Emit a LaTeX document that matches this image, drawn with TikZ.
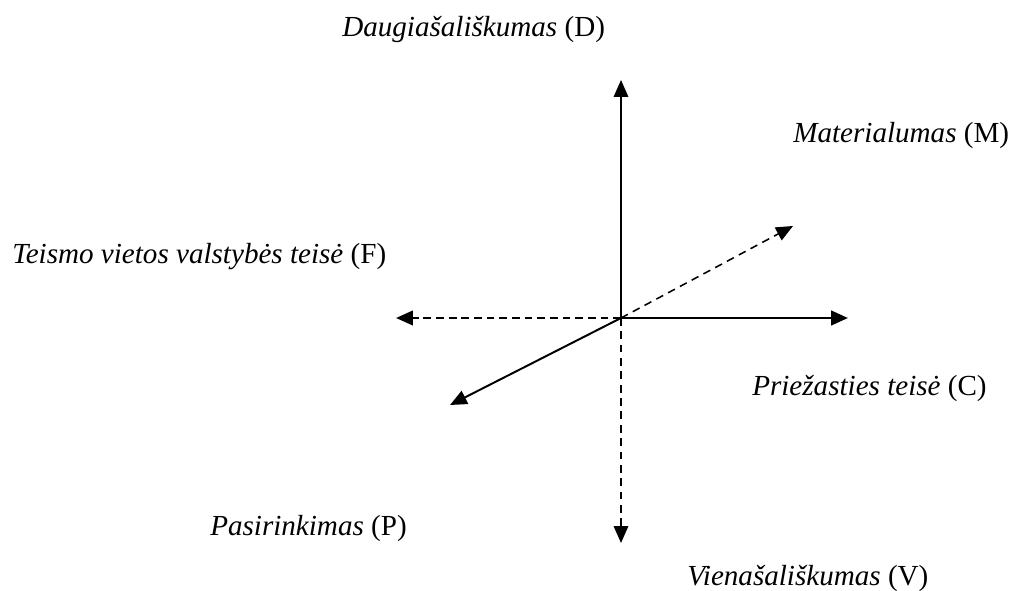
\documentclass[tikz,border=0pt]{standalone}
\usepackage{fontspec}
\setmainfont{Liberation Serif}
\usetikzlibrary{arrows.meta}

\begin{document}
\begin{tikzpicture}[>={Triangle[length=0.42cm,width=0.36cm]}, every node/.style={inner sep=0pt, anchor=base west, font=\fontsize{20.7}{25}\selectfont}]
  \useasboundingbox (-15.525cm,-6.8cm) rectangle (9.775cm,7.95cm);
  \coordinate (o) at (0cm,0cm);
  \coordinate (d) at (0cm,5.95cm);
  \coordinate (v) at (0cm,-5.625cm);
  \coordinate (c) at (5.675cm,0cm);
  \coordinate (f) at (-5.625cm,0cm);
  \coordinate (m) at (4.3cm,2.3cm);
  \coordinate (p) at (-4.275cm,-2.175cm);

  \node (lD) at (-6.975cm,7.025cm) {\textit{Daugiašališkumas} (D)};
  \node (lM) at (4.3cm,4.375cm) {\textit{Materialumas} (M)};
  \node (lF) at (-15.225cm,1.375cm) {\textit{Teismo vietos valstybės teisė} (F)};
  \node (lC) at (3.275cm,-1.925cm) {\textit{Priežasties teisė} (C)};
  \node (lP) at (-10.275cm,-5.425cm) {\textit{Pasirinkimas} (P)};
  \node (lV) at (1.65cm,-6.675cm) {\textit{Vienašališkumas} (V)};

  \draw[->, line width=1.1pt] (o) -- (d);
  \draw[->, line width=2pt] (o) -- (c);
  \draw[->, line width=1.4pt] (o) -- (p);
  \draw[->, line width=1.8pt, dash pattern=on 5.5pt off 3.5pt] (o) -- (f);
  \draw[->, line width=1.1pt, dash pattern=on 5.5pt off 4pt] (o) -- (v);
  \draw[->, line width=1.1pt, dash pattern=on 5.5pt off 4pt] (o) -- (m);
\end{tikzpicture}
\end{document}
